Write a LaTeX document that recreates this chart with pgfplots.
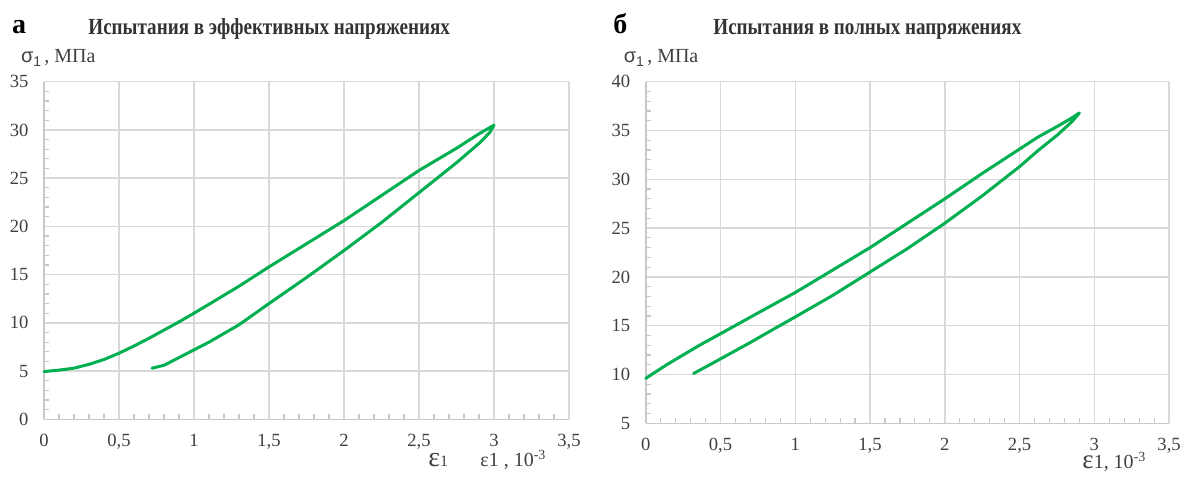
\documentclass[border=0pt]{standalone}
\usepackage{fontspec}
\setmainfont{Liberation Serif}
\newfontfamily\sansf{Liberation Sans}
\newfontfamily\ttlfont[FakeStretch=0.83]{Liberation Serif Bold}
\usepackage{pgfplots}
\pgfplotsset{compat=1.18}
\definecolor{gridc}{HTML}{D9D9D9}
\definecolor{axc}{HTML}{C8C8C8}
\definecolor{txtc}{HTML}{404040}
\definecolor{ttlc}{HTML}{333333}
\definecolor{grn}{HTML}{00B050}
\pgfplotsset{
  myax/.style={
    anchor=south west, scale only axis,
    xmin=0, xmax=3.5,
    xtick={0,0.5,1,1.5,2,2.5,3,3.5},
    minor x tick num=4, minor y tick num=4,
    axis x line*=bottom, axis y line*=left,
    axis line style={color=axc, line width=0.8pt},
    grid=major, major grid style={color=gridc, line width=0.7pt},
    tick align=inside, major tick length=0pt, minor tick length=2.5pt,
    minor tick style={color=axc, line width=0.6pt},
    /pgf/number format/use comma,
    /pgf/number format/assume math mode=true,
    xticklabel={\pgfmathprintnumber{\tick}},
    yticklabel={\pgfmathprintnumber{\tick}},
    ticklabel style={font=\rmfamily\fontsize{9.3}{10}\selectfont, text=txtc, inner sep=0.5pt},
    xticklabel style={yshift=-6.8pt},
    yticklabel style={xshift=-7.1pt},
    clip=false,
  },
  curve/.style={color=grn, line width=1.5pt, line join=round, line cap=round},
}
\begin{document}
\begin{tikzpicture}
\path[use as bounding box] (0,0) rectangle (593pt,-240.5pt);
% left panel
\begin{axis}[myax, at={(22pt,-209.65pt)}, width=262.5pt, height=168.8pt,
  ymin=0, ymax=35, ytick={0,5,10,15,20,25,30,35}]
\addplot[curve] coordinates {
(0,4.95) (0.1,5.1) (0.2,5.3) (0.3,5.7) (0.4,6.2) (0.5,6.85) (0.6,7.6) (0.7,8.4) (0.8,9.25) (0.9,10.1) (1.0,11.0) (1.14,12.3) (1.3,13.8) (1.5,15.8) (1.75,18.2) (2.0,20.6) (2.25,23.2) (2.5,25.8) (2.75,28.1) (2.9,29.6) (3.0,30.5)
(2.97,29.7) (2.9,28.6) (2.75,26.6) (2.5,23.5) (2.25,20.4) (2.0,17.5) (1.75,14.7) (1.5,12.0) (1.4,10.9) (1.3,9.8) (1.2,8.9) (1.1,8.0) (1.0,7.2) (0.9,6.4) (0.8,5.6) (0.72,5.3)
};
\end{axis}
% right panel
\begin{axis}[myax, at={(322.85pt,-211.65pt)}, width=261.7pt, height=170.8pt,
  ymin=5, ymax=40, ytick={5,10,15,20,25,30,35,40}]
\addplot[curve] coordinates {
(0,9.6) (0.14,11.0) (0.36,13.0) (0.55,14.6) (0.75,16.3) (1.0,18.4) (1.25,20.7) (1.5,23.0) (1.75,25.5) (2.0,28.0) (2.25,30.6) (2.5,33.1) (2.62,34.3) (2.75,35.4) (2.84,36.2) (2.9,36.8)
(2.85,35.9) (2.75,34.5) (2.62,32.9) (2.5,31.3) (2.25,28.3) (2.0,25.5) (1.75,22.9) (1.5,20.5) (1.25,18.1) (1.0,15.9) (0.85,14.6) (0.69,13.2) (0.5,11.6) (0.32,10.1)
};
\end{axis}
% titles
\node[anchor=base west, inner sep=0pt, text=black, font=\fontsize{14}{14}\selectfont\bfseries] at (5.85pt,-16.7pt) {а};
\node[anchor=base west, inner sep=0pt, text=ttlc, font=\ttlfont\fontsize{11.5}{12}\selectfont] at (44pt,-17.2pt) {Испытания в эффективных напряжениях};
\node[anchor=base west, inner sep=0pt, text=black, font=\fontsize{14}{14}\selectfont\bfseries] at (306.5pt,-16.7pt) {б};
\node[anchor=base west, inner sep=0pt, text=ttlc, font=\ttlfont\fontsize{11.5}{12}\selectfont] at (356.5pt,-17.2pt) {Испытания в полных напряжениях};
% y labels
\node[anchor=base west, inner sep=0pt, text=txtc, font=\fontsize{10}{12}\selectfont] at (10.3pt,-31.2pt) {{\sansf σ\raisebox{-2pt}{\fontsize{7}{8}\selectfont 1}}\,, МПа};
\node[anchor=base west, inner sep=0pt, text=txtc, font=\fontsize{10}{12}\selectfont] at (311.7pt,-31.2pt) {{\sansf σ\raisebox{-2pt}{\fontsize{7}{8}\selectfont 1}}\,, МПа};
% x labels
\node[anchor=base west, inner sep=0pt, text=txtc, text height=6.5pt] at (214pt,-233.3pt) {{\fontsize{14}{14}\selectfont ε}{\fontsize{8}{8}\selectfont 1}};
\node[anchor=base west, inner sep=0pt, text=txtc, text height=7pt, font=\fontsize{10}{12}\selectfont] at (240pt,-233.3pt) {ε1 , 10\textsuperscript{-3}};
\node[anchor=base west, inner sep=0pt, text=txtc, text height=7pt] at (541pt,-234.3pt) {{\fontsize{13.5}{14}\selectfont ε}{\fontsize{10}{12}\selectfont 1, 10\textsuperscript{-3}}};
\end{tikzpicture}
\end{document}
